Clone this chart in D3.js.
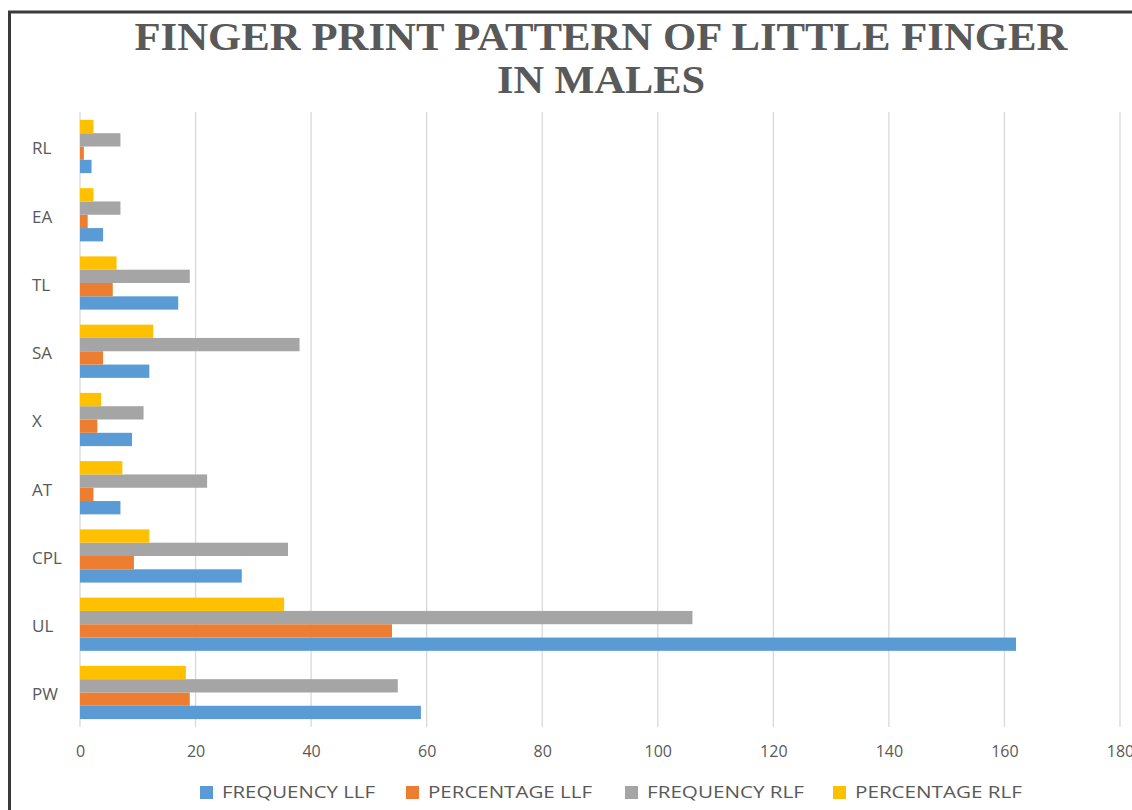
<!DOCTYPE html>
<html>
<head>
<meta charset="utf-8">
<script src="https://cdn.jsdelivr.net/npm/d3@7"></script>
<style>
  html, body { margin: 0; padding: 0; background: #fff; }
  svg { display: block; }
</style>
</head>
<body>
<svg id="chart" width="1132" height="810"></svg>
<script>
// Fingerprint patterns, top to bottom as listed on the chart
const categories = ["RL", "EA", "TL", "SA", "X", "AT", "CPL", "UL", "PW"];

const frequencyLLF  = [2, 4, 17, 12, 9, 7, 28, 162, 59];
const percentageLLF = [0.67, 1.33, 5.67, 4, 3, 2.33, 9.33, 54, 19.0];
const frequencyRLF  = [7, 7, 19, 38, 11, 22, 36, 106, 55];
const percentageRLF = [2.33, 2.33, 6.33, 12.67, 3.67, 7.33, 12, 35.33, 18.33];

const seriesNames  = ["FREQUENCY LLF", "PERCENTAGE LLF", "FREQUENCY RLF", "PERCENTAGE RLF"];
const seriesColors = ["#5B9BD5", "#ED7D31", "#A5A5A5", "#FFC000"];
const xTicks = [0, 20, 40, 60, 80, 100, 120, 140, 160, 180];

const titleLines = ["FINGER PRINT PATTERN OF LITTLE FINGER", "IN MALES"];

const seriesValues = [frequencyLLF, percentageLLF, frequencyRLF, percentageRLF];

const svg = d3.select("#chart");

// chart frame
svg.append("rect")
  .attr("x", 9.5).attr("y", 12)
  .attr("width", 1140).attr("height", 820)
  .attr("fill", "none")
  .attr("stroke", "#3a3a3a")
  .attr("stroke-width", 3);

// title
const titleWidths = [933, 208];
svg.append("g").selectAll("text")
  .data(titleLines)
  .join("text")
  .attr("x", 601)
  .attr("y", (d, i) => 50 + i * 43)
  .attr("text-anchor", "middle")
  .attr("font-family", "'Liberation Serif', 'Times New Roman', serif")
  .attr("font-weight", "bold")
  .attr("font-size", 40)
  .attr("fill", "#595959")
  .attr("textLength", (d, i) => titleWidths[i])
  .attr("lengthAdjust", "spacingAndGlyphs")
  .text(d => d);

const x = d3.scaleLinear().domain([0, 180]).range([80, 1120]);

const y = d3.scaleBand()
  .domain(categories)
  .range([112.4, 726.6])
  .paddingInner(0.22)
  .paddingOuter(0.11);

// bars within each group: percentage RLF on top, frequency LLF at the bottom
const ySub = d3.scaleBand()
  .domain([3, 2, 1, 0])
  .range([0, y.bandwidth()]);

// vertical gridlines
svg.append("g").selectAll("line")
  .data(xTicks)
  .join("line")
  .attr("x1", d => x(d)).attr("x2", d => x(d))
  .attr("y1", 112).attr("y2", 727)
  .attr("stroke", "#D9D9D9")
  .attr("stroke-width", 1.3);

// x axis labels
const xAxis = d3.axisBottom(x).tickValues(xTicks).tickSize(0).tickPadding(0);
const gx = svg.append("g").attr("transform", "translate(0,746)").call(xAxis);
gx.select(".domain").remove();
gx.selectAll("text")
  .attr("dy", "0.32em")
  .attr("y", 6)
  .attr("font-family", "'Open Sans', 'Noto Sans', sans-serif")
  .attr("font-size", 16)
  .attr("fill", "#595959");

// category labels
svg.append("g").selectAll("text")
  .data(categories)
  .join("text")
  .attr("x", 32)
  .attr("y", d => y(d) + y.bandwidth() / 2 + 2)
  .attr("dy", "0.35em")
  .attr("font-family", "'Open Sans', 'Noto Sans', sans-serif")
  .attr("font-size", 17)
  .attr("fill", "#595959")
  .text(d => d);

// bars
const groups = svg.append("g").selectAll("g")
  .data(categories)
  .join("g")
  .attr("transform", d => `translate(0,${y(d)})`);

groups.selectAll("rect")
  .data((d, ci) => seriesValues.map((vals, si) => ({ si, v: vals[ci] })))
  .join("rect")
  .attr("x", x(0))
  .attr("y", d => ySub(d.si))
  .attr("width", d => x(d.v) - x(0))
  .attr("height", ySub.bandwidth())
  .attr("fill", d => seriesColors[d.si]);

// legend
const legendX = [200, 406, 625, 833];
const legendTextW = [153, 164, 157, 167];
const legend = svg.append("g").selectAll("g")
  .data(seriesNames)
  .join("g")
  .attr("transform", (d, i) => `translate(${legendX[i]},786)`);

legend.append("rect")
  .attr("width", 13).attr("height", 13)
  .attr("fill", (d, i) => seriesColors[i]);

legend.append("text")
  .attr("x", 22)
  .attr("y", 6.5)
  .attr("dy", "0.35em")
  .attr("font-family", "'Open Sans', 'Noto Sans', sans-serif")
  .attr("font-size", 16.5)
  .attr("fill", "#595959")
  .attr("textLength", (d, i) => legendTextW[i])
  .attr("lengthAdjust", "spacingAndGlyphs")
  .text(d => d);
</script>
</body>
</html>
